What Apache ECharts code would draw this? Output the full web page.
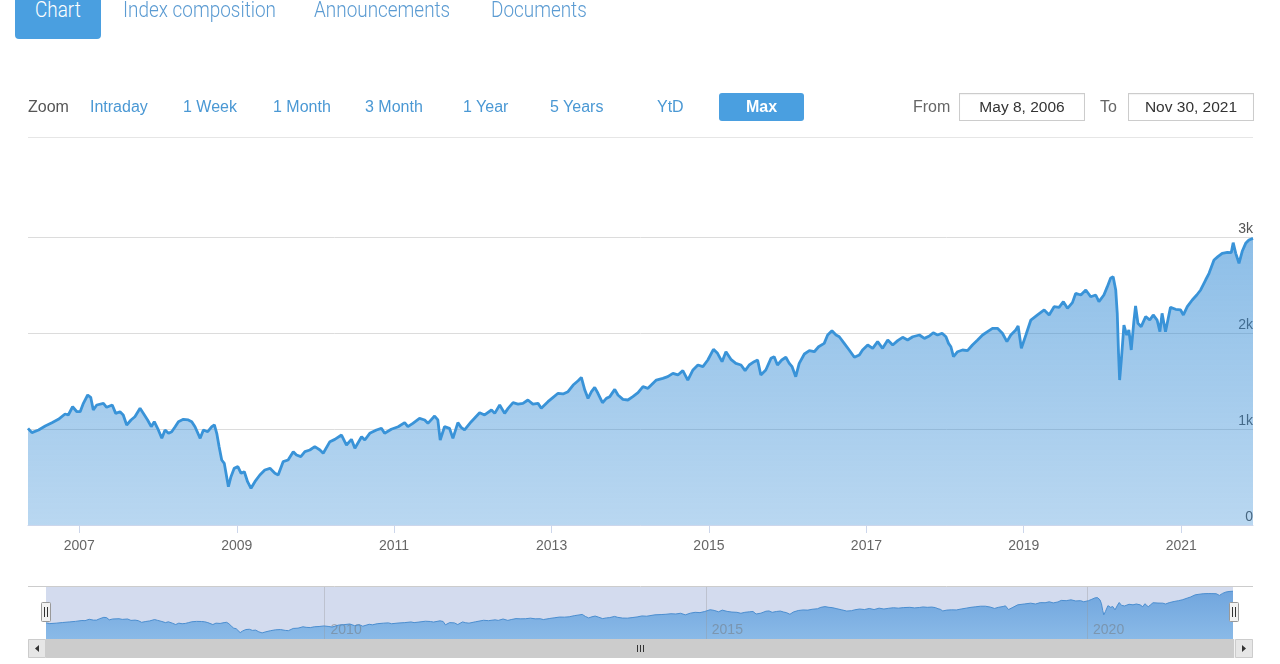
<!DOCTYPE html>
<html><head><meta charset="utf-8">
<script src="https://cdn.jsdelivr.net/npm/echarts@6/dist/echarts.min.js"></script>
<style>
html,body{margin:0;padding:0;background:#fff;width:1280px;height:664px;overflow:hidden;font-family:"Liberation Sans",Arial,sans-serif;}
#wrap{position:relative;width:1280px;height:664px;}
#chart{position:absolute;left:0;top:0;width:1280px;height:664px;}
.tab{position:absolute;top:-1.5px;height:22px;line-height:22px;font-family:Roboto,sans-serif;font-weight:300;font-size:22px;color:#5b9bd2;white-space:nowrap;transform-origin:left top;transform:scaleX(0.86);}
.tabsel{position:absolute;left:15px;top:-6px;width:86px;height:45px;background:#4a9fe0;border-radius:4px;}
.lbl{position:absolute;top:98.5px;height:16px;line-height:16px;font-size:16px;white-space:nowrap;}
.zb{color:#4a98d4;}
.maxbtn{position:absolute;left:719px;top:93px;width:85px;height:28px;background:#4a9fe0;border-radius:3px;color:#fff;font-weight:bold;font-size:16px;line-height:28px;text-align:center;}
.inp{position:absolute;top:93px;width:126px;height:28px;box-sizing:border-box;border:1px solid #cccccc;box-shadow:inset 0 1px 1px rgba(0,0,0,0.05);text-align:center;font-size:15.5px;line-height:26px;color:#333;}
.sep{position:absolute;left:28px;top:137px;width:1225px;height:1px;background:#e6e6e6;}
</style></head>
<body><div id="wrap">
<div id="chart"></div>
<div class="tabsel"></div>
<div class="tab" style="left:35px;color:#fff;">Chart</div>
<div class="tab" style="left:123px;">Index composition</div>
<div class="tab" style="left:314px;">Announcements</div>
<div class="tab" style="left:491px;">Documents</div>
<div class="lbl" style="left:28px;color:#555;">Zoom</div>
<div class="lbl zb" style="left:90px;">Intraday</div>
<div class="lbl zb" style="left:183px;">1 Week</div>
<div class="lbl zb" style="left:273px;">1 Month</div>
<div class="lbl zb" style="left:365px;">3 Month</div>
<div class="lbl zb" style="left:463px;">1 Year</div>
<div class="lbl zb" style="left:550px;">5 Years</div>
<div class="lbl zb" style="left:657px;">YtD</div>
<div class="maxbtn">Max</div>
<div class="lbl" style="left:913px;color:#666;">From</div>
<div class="inp" style="left:959px;">May 8, 2006</div>
<div class="lbl" style="left:1100px;color:#666;">To</div>
<div class="inp" style="left:1128px;">Nov 30, 2021</div>
<div class="sep"></div>
</div>
<script>
const dates = [
'2006-05-08','2006-05-26','2006-06-26','2006-07-27','2006-08-27','2006-09-26','2006-10-27','2006-11-11','2006-12-01','2006-12-21',
'2007-01-05','2007-01-20','2007-02-09','2007-02-23','2007-03-07','2007-03-23','2007-04-23','2007-05-08','2007-06-03','2007-06-19',
'2007-07-09','2007-07-24','2007-08-09','2007-08-29','2007-09-16','2007-10-10','2007-10-25','2007-11-14','2007-12-01','2007-12-15',
'2008-01-03','2008-01-19','2008-02-03','2008-02-19','2008-03-05','2008-03-21','2008-04-05','2008-04-28','2008-05-21','2008-06-06',
'2008-06-21','2008-07-15','2008-07-30','2008-08-19','2008-09-07','2008-09-19','2008-09-30','2008-10-11','2008-10-23','2008-11-04',
'2008-11-12','2008-11-23','2008-12-05','2008-12-20','2009-01-06','2009-01-21','2009-02-05','2009-02-20','2009-03-08','2009-03-26',
'2009-04-18','2009-05-11','2009-06-04','2009-06-27','2009-07-12','2009-08-04','2009-08-27','2009-09-20','2009-10-05','2009-10-25',
'2009-11-13','2009-12-06','2009-12-29','2010-01-22','2010-02-06','2010-03-09','2010-04-01','2010-05-02','2010-05-25','2010-06-17',
'2010-07-03','2010-08-03','2010-08-18','2010-09-10','2010-10-11','2010-11-03','2010-11-18','2010-12-19','2011-01-20','2011-02-19',
'2011-03-06','2011-03-29','2011-04-29','2011-05-23','2011-06-07','2011-07-08','2011-07-23','2011-08-03','2011-08-23','2011-09-15',
'2011-10-01','2011-10-24','2011-11-08','2011-11-24','2011-12-25','2012-02-02','2012-02-25','2012-03-28','2012-04-12','2012-05-05',
'2012-05-28','2012-06-13','2012-07-06','2012-07-29','2012-08-21','2012-09-13','2012-10-06','2012-10-30','2012-11-14','2012-12-15',
'2013-01-08','2013-01-31','2013-02-23','2013-03-18','2013-04-11','2013-05-04','2013-05-19','2013-06-04','2013-06-19','2013-07-05',
'2013-07-20','2013-08-04','2013-08-25','2013-09-12','2013-09-28','2013-10-21','2013-11-05','2013-11-28','2013-12-21','2014-01-13',
'2014-02-06','2014-03-01','2014-03-24','2014-05-02','2014-06-01','2014-06-24','2014-07-18','2014-08-10','2014-09-02','2014-09-25',
'2014-10-19','2014-11-11','2014-12-04','2014-12-27','2015-01-22','2015-02-10','2015-03-03','2015-03-21','2015-04-13','2015-05-06',
'2015-05-30','2015-06-18','2015-07-07','2015-07-30','2015-08-15','2015-08-30','2015-09-22','2015-10-16','2015-10-31','2015-11-15',
'2015-12-05','2015-12-24','2016-01-09','2016-01-22','2016-02-08','2016-02-24','2016-03-19','2016-04-11','2016-05-04','2016-05-24',
'2016-06-19','2016-07-05','2016-07-25','2016-08-13','2016-08-28','2016-09-20','2016-10-13','2016-11-06','2016-11-29','2016-12-14',
'2017-01-07','2017-01-30','2017-02-22','2017-03-17','2017-04-10','2017-05-03','2017-05-26','2017-06-18','2017-07-11','2017-08-04',
'2017-09-04','2017-09-27','2017-10-20','2017-11-07','2017-11-27','2017-12-18','2018-01-05','2018-01-17','2018-01-28','2018-02-09',
'2018-02-28','2018-03-23','2018-04-15','2018-05-08','2018-06-01','2018-06-24','2018-07-17','2018-08-09','2018-09-01','2018-09-24',
'2018-10-15','2018-11-02','2018-11-25','2018-12-06','2018-12-21','2019-01-11','2019-02-03','2019-03-06','2019-04-06','2019-04-29',
'2019-05-22','2019-06-14','2019-07-04','2019-07-23','2019-08-15','2019-08-30','2019-09-23','2019-10-16','2019-11-08','2019-12-01',
'2019-12-16','2020-01-08','2020-01-24','2020-02-08','2020-02-20','2020-03-03','2020-03-10','2020-03-16','2020-03-21','2020-03-29',
'2020-04-10','2020-04-23','2020-05-03','2020-05-14','2020-05-26','2020-06-03','2020-06-14','2020-06-29','2020-07-20','2020-08-08',
'2020-08-24','2020-09-11','2020-09-24','2020-10-04','2020-10-20','2020-10-31','2020-11-12','2020-12-06','2020-12-29','2021-01-11',
'2021-01-29','2021-02-21','2021-03-14','2021-04-01','2021-04-24','2021-05-10','2021-06-02','2021-06-20','2021-07-10','2021-08-03',
'2021-08-21','2021-08-30','2021-09-11','2021-09-26','2021-10-11','2021-10-27','2021-11-11','2021-11-30'
];
const values = [
1007,962,990,1031,1066,1101,1156,1146,1232,1180,
1180,1267,1354,1330,1198,1250,1267,1226,1250,1163,
1180,1146,1042,1094,1128,1215,1163,1094,1024,1076,
990,903,990,955,972,1024,1076,1101,1094,1076,
1024,903,990,972,1024,1042,955,816,677,642,
538,399,503,590,608,538,555,451,382,451,
521,573,590,538,521,660,677,764,729,712,
764,781,816,781,747,868,892,937,833,892,
799,920,885,955,990,1007,955,997,1024,1066,
1024,1059,1111,1094,1059,1135,1094,885,1024,1007,
903,1066,1017,990,1076,1170,1146,1198,1163,1250,
1163,1215,1274,1260,1267,1302,1260,1267,1215,1285,
1330,1372,1365,1389,1458,1503,1538,1406,1319,1389,
1434,1372,1274,1319,1337,1413,1354,1309,1302,1337,
1378,1441,1424,1510,1528,1545,1580,1563,1608,1510,
1615,1667,1649,1719,1830,1788,1701,1805,1726,1684,
1667,1608,1667,1701,1719,1563,1615,1736,1753,1667,
1719,1747,1684,1649,1545,1684,1781,1816,1805,1857,
1892,1979,2024,1979,1961,1892,1823,1747,1771,1823,
1875,1840,1910,1840,1927,1875,1920,1955,1927,1961,
1979,1944,1969,2003,1979,1997,1960,1892,1857,1753,
1805,1823,1816,1875,1927,1979,2014,2049,2049,1997,
1910,1979,2031,2073,1840,1979,2135,2188,2240,2188,
2274,2267,2326,2257,2316,2413,2396,2448,2378,2396,
2326,2396,2483,2570,2587,2448,2205,1788,1510,1719,
2083,1979,2031,1823,2118,2281,2101,2066,2170,2135,
2188,2135,2014,2205,2014,2135,2267,2247,2240,2188,
2274,2344,2396,2448,2552,2622,2760,2795,2830,2840,
2837,2941,2830,2726,2851,2934,2969,2986
];
const yTickValues = [0, 1000, 2000, 3000];
const xTickYears = [2007, 2009, 2011, 2013, 2015, 2017, 2019, 2021];
const navTickYears = [2010, 2015, 2020];
const rangeStart = '2006-05-08';
const rangeEnd = '2021-11-30';

const parseDay = s => { const p = s.split('-').map(Number); return Date.UTC(p[0], p[1]-1, p[2]); };
const yearTs = y => Date.UTC(y, 0, 1);
const seriesData = dates.map((d, i) => [parseDay(d), values[i]]);
const xMin = parseDay(rangeStart), xMax = parseDay(rangeEnd);
const xTicks = xTickYears.map(yearTs);
const navTicks = navTickYears.map(yearTs);
const yearFmt = v => String(new Date(v + 86400000).getUTCFullYear());

const chart = echarts.init(document.getElementById('chart'), null, {renderer:'canvas'});
chart.setOption({
  animation: false,
  grid: [
    {left: 28, right: 27, top: 237, bottom: 139},
    {left: 46, right: 47, top: 587, height: 52, show: true, backgroundColor: 'rgb(211,219,238)', borderWidth: 0}
  ],
  xAxis: [
    {type: 'value', gridIndex: 0, min: xMin, max: xMax, scale: true,
     axisLine: {show: true, lineStyle: {color: '#ccd6eb', width: 1}},
     axisTick: {show: true, customValues: xTicks, length: 8, lineStyle: {color: '#ccd6eb'}},
     axisLabel: {customValues: xTicks, formatter: yearFmt, color: '#666', fontSize: 14, margin: 14, fontFamily: 'Liberation Sans'},
     splitLine: {show: false}},
    {type: 'value', gridIndex: 1, min: xMin, max: xMax, scale: true, z: 3,
     axisLine: {show: false},
     axisTick: {show: true, inside: true, customValues: navTicks, length: 52, lineStyle: {color: 'rgba(150,150,150,0.35)'}},
     axisLabel: {inside: true, customValues: navTicks, formatter: yearFmt, color: 'rgba(110,110,110,0.45)', fontSize: 14, align: 'left', padding: [0,0,0,6], margin: 2, fontFamily: 'Liberation Sans'},
     splitLine: {show: false}}
  ],
  yAxis: [
    {type: 'value', gridIndex: 0, min: yTickValues[0], max: yTickValues[yTickValues.length-1], interval: 1000, position: 'right',
     axisLine: {show: false}, axisTick: {show: false},
     splitLine: {show: true, lineStyle: {color: '#dcdcdc'}},
     axisLabel: {inside: true, verticalAlign: 'bottom', align: 'right', margin: 0, padding: [0,0,1,0], color: '#555', fontSize: 14, fontFamily: 'Liberation Sans',
       formatter: v => v === 0 ? '0' : (v/1000) + 'k'}},
    {type: 'value', gridIndex: 1, min: 0, max: 3250, show: false}
  ],
  series: [
    {type: 'line', xAxisIndex: 0, yAxisIndex: 0, data: seriesData, showSymbol: false, silent: true,
     lineStyle: {color: '#3993d8', width: 2.8},
     areaStyle: {color: {type: 'linear', x: 0, y: 0, x2: 0, y2: 1,
       colorStops: [{offset: 0, color: 'rgba(46,136,212,0.78)'}, {offset: 1, color: 'rgba(46,136,212,0.48)'}]}}},
    {type: 'line', xAxisIndex: 1, yAxisIndex: 1, data: seriesData, showSymbol: false, silent: true,
     lineStyle: {color: '#4b8ed0', width: 1},
     areaStyle: {opacity: 0.85, color: {type: 'linear', x: 0, y: 0, x2: 0, y2: 1,
       colorStops: [{offset: 0, color: '#5f9cdb'}, {offset: 1, color: '#7db4e6'}]}}}
  ],
  graphic: [
    {type: 'line', shape: {x1: 28, y1: 586.5, x2: 1253, y2: 586.5}, style: {stroke: '#cccccc', lineWidth: 1}, z: 10},
    {type: 'rect', shape: {x: 28, y: 639, width: 1225, height: 19}, style: {fill: '#f2f2f2'}, z: 10},
    {type: 'rect', shape: {x: 46, y: 639, width: 1188, height: 19}, style: {fill: '#cccccc'}, z: 11},
    {type: 'rect', shape: {x: 28.5, y: 639.5, width: 17, height: 18}, style: {fill: '#e6e6e6', stroke: '#cccccc', lineWidth: 1}, z: 11},
    {type: 'rect', shape: {x: 1235.5, y: 639.5, width: 17, height: 18}, style: {fill: '#e6e6e6', stroke: '#cccccc', lineWidth: 1}, z: 11},
    {type: 'polygon', shape: {points: [[39, 645], [39, 652], [35, 648.5]]}, style: {fill: '#333'}, z: 12},
    {type: 'polygon', shape: {points: [[1242, 645], [1242, 652], [1246, 648.5]]}, style: {fill: '#333'}, z: 12},
    {type: 'line', shape: {x1: 637.5, y1: 645, x2: 637.5, y2: 652}, style: {stroke: '#333', lineWidth: 1}, z: 12},
    {type: 'line', shape: {x1: 640.5, y1: 645, x2: 640.5, y2: 652}, style: {stroke: '#333', lineWidth: 1}, z: 12},
    {type: 'line', shape: {x1: 643.5, y1: 645, x2: 643.5, y2: 652}, style: {stroke: '#333', lineWidth: 1}, z: 12},
    {type: 'rect', shape: {x: 41.5, y: 602.5, width: 9, height: 19, r: 1}, style: {fill: '#f2f2f2', stroke: '#999', lineWidth: 1}, z: 12},
    {type: 'line', shape: {x1: 44.5, y1: 607, x2: 44.5, y2: 617}, style: {stroke: '#333', lineWidth: 1}, z: 13},
    {type: 'line', shape: {x1: 47.5, y1: 607, x2: 47.5, y2: 617}, style: {stroke: '#333', lineWidth: 1}, z: 13},
    {type: 'rect', shape: {x: 1229.5, y: 602.5, width: 9, height: 19, r: 1}, style: {fill: '#f2f2f2', stroke: '#999', lineWidth: 1}, z: 12},
    {type: 'line', shape: {x1: 1232.5, y1: 607, x2: 1232.5, y2: 617}, style: {stroke: '#333', lineWidth: 1}, z: 13},
    {type: 'line', shape: {x1: 1235.5, y1: 607, x2: 1235.5, y2: 617}, style: {stroke: '#333', lineWidth: 1}, z: 13}
  ]
});
</script>
</body></html>
